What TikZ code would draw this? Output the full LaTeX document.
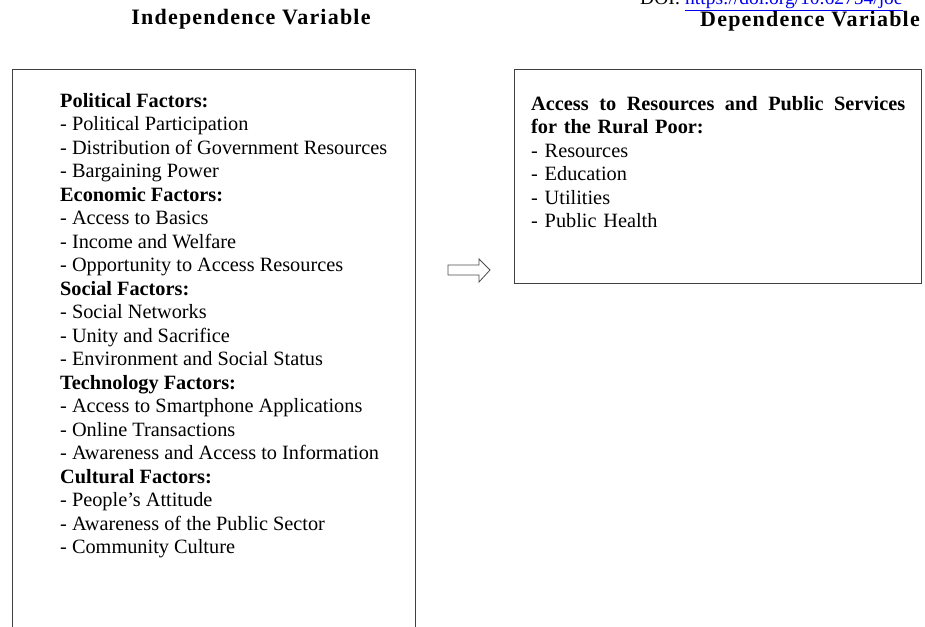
\documentclass[tikz,border=0pt]{standalone}
\usepackage{fontspec}
\setmainfont{Liberation Serif}
\definecolor{linkblue}{RGB}{0,0,238}
\begin{document}
\begin{tikzpicture}[x=1pt,y=-1pt,
  frame/.style={draw=black!75,line width=1pt},
  body/.style={inner sep=0pt,anchor=north west,align=left,font=\fontsize{20.3}{23.5}\selectfont},
  heading/.style={inner sep=0pt,anchor=base,font=\fontsize{22}{26}\selectfont\bfseries\addfontfeature{LetterSpace=5.5}},
  blockarrow/.style={draw=black!70,line width=0.8pt,fill=white}]
\useasboundingbox (0,0) rectangle (925,626);
\node[heading] (hind) at (251,25) {Independence Variable};
\node[heading] (hdep) at (810,27) {Dependence Variable};
\node[inner sep=0pt,anchor=base west,font=\fontsize{19.5}{23.5}\selectfont] (doi) at (640,4.5) {DOI: \textcolor{linkblue}{\underline{https://doi.org/10.62754/joe}}};
\draw[frame] (12,69) rectangle (415,660);
\draw[frame] (514,69) rectangle (921,283);
\node[body] (ivtext) at (60,93) {\textbf{Political Factors:}\\
- Political Participation\\
- Distribution of Government Resources\\
- Bargaining Power\\
\textbf{Economic Factors:}\\
- Access to Basics\\
- Income and Welfare\\
- Opportunity to Access Resources\\
\textbf{Social Factors:}\\
- Social Networks\\
- Unity and Sacrifice\\
- Environment and Social Status\\
\textbf{Technology Factors:}\\
- Access to Smartphone Applications\\
- Online Transactions\\
- Awareness and Access to Information\\
\textbf{Cultural Factors:}\\
- People's Attitude\\
- Awareness of the Public Sector\\
- Community Culture};
\node[body,text width=374pt] (dvtext) at (531,96) {\textbf{Access\hfill to\hfill Resources\hfill and\hfill Public\hfill Services}\\
\textbf{for the Rural Poor:}\\
- Resources\\
- Education\\
- Utilities\\
- Public Health};
\draw[blockarrow] (448,265) -- (479,265) -- (479,259) -- (490,270) -- (479,282) -- (479,275) -- (448,275) -- cycle;
\end{tikzpicture}
\end{document}
